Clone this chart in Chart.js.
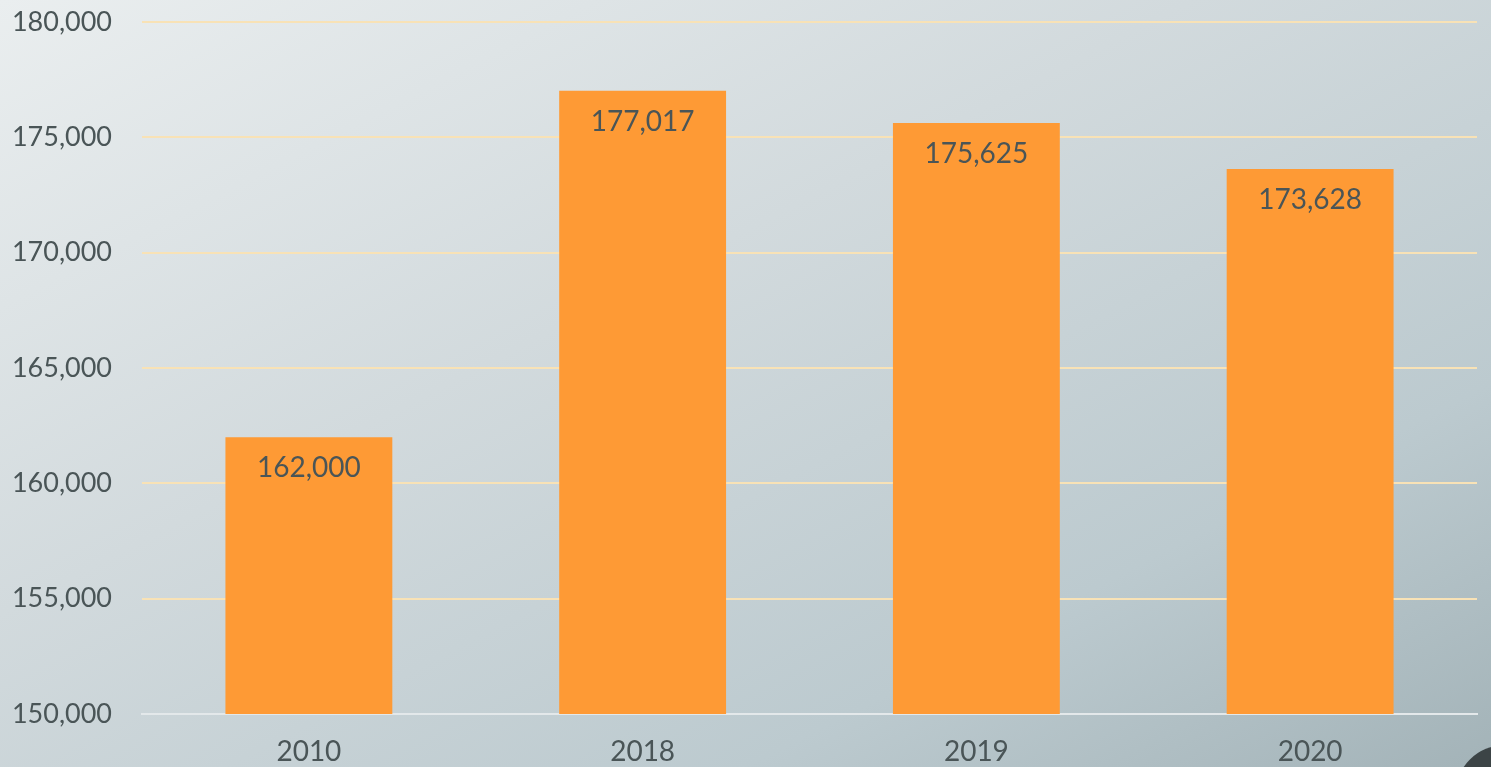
<!DOCTYPE html>
<html>
<head>
<meta charset="utf-8">
<script src="https://cdn.jsdelivr.net/npm/chart.js@4/dist/chart.umd.min.js"></script>
<style>
  html, body { margin: 0; padding: 0; width: 1491px; height: 767px; overflow: hidden; }
  body { background: linear-gradient(to bottom right, #eaeeef 0%, #d2dadd 40%, #bccacf 75%, #a3b3b8 100%); position: relative; }
  #wrap { position: absolute; left: 0; top: 0; width: 1491px; height: 767px; }
  #dot { position: absolute; left: 1455px; top: 745px; width: 100px; height: 100px; border-radius: 50%; background: #3c4446; }
</style>
</head>
<body>
<div id="wrap"><canvas id="c" width="1491" height="767"></canvas></div>
<div id="dot"></div>
<script>
const categories = ['2010', '2018', '2019', '2020'];
const values = [162000, 177017, 175625, 173628];
const yTicks = [150000, 155000, 160000, 165000, 170000, 175000, 180000];

const FONT = 'Lato, "Open Sans", sans-serif';
const TEXT = '#4a5557';

const valueLabels = {
  id: 'valueLabels',
  afterDatasetsDraw(chart) {
    const ctx = chart.ctx;
    const meta = chart.getDatasetMeta(0);
    ctx.save();
    ctx.font = '28px ' + FONT;
    ctx.fillStyle = TEXT;
    ctx.textAlign = 'center';
    ctx.textBaseline = 'middle';
    meta.data.forEach((bar, i) => {
      ctx.fillText(values[i].toLocaleString('en-US'), bar.x, bar.y + 31);
    });
    ctx.restore();
  }
};

new Chart(document.getElementById('c'), {
  type: 'bar',
  data: {
    labels: categories,
    datasets: [{
      data: values,
      backgroundColor: '#fe9a35',
      borderWidth: 0,
      barPercentage: 0.5,
      categoryPercentage: 1.0
    }]
  },
  options: {
    responsive: false,
    animation: false,
    layout: { padding: { top: 22, right: 14, left: 0, bottom: 0 } },
    plugins: { legend: { display: false }, tooltip: { enabled: false } },
    scales: {
      x: {
        grid: { display: false, drawTicks: false },
        border: { display: true, color: '#e3e8ea', width: 2 },
        ticks: { color: TEXT, font: { family: FONT, size: 28 }, padding: 21 },
        afterFit(s) { s.height = 53; }
      },
      y: {
        min: 150000, max: 180000,
        afterBuildTicks(s) { s.ticks = yTicks.map(v => ({ value: v })); },
        grid: {
          color: c => (c.tick && c.tick.value === 150000) ? '#e3e8ea' : '#f8e2b6',
          lineWidth: 2, drawTicks: false
        },
        border: { display: false },
        ticks: {
          color: TEXT, font: { family: FONT, size: 27 }, padding: 30,
          callback: v => v.toLocaleString('en-US')
        },
        afterFit(s) { s.width = 142; s.paddingTop = 0; s.paddingBottom = 0; }
      }
    }
  },
  plugins: [valueLabels]
});
</script>
</body>
</html>
